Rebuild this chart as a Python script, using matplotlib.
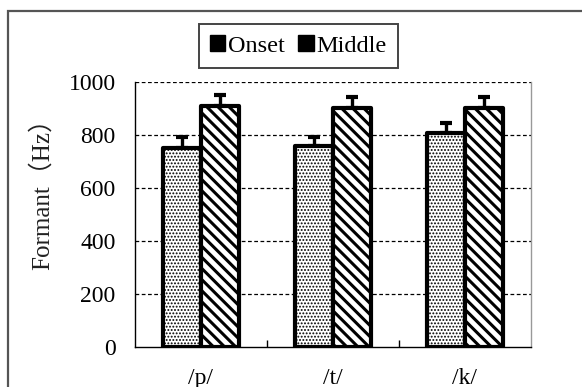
import numpy as np
import matplotlib
matplotlib.use('Agg')
import matplotlib.pyplot as plt
from matplotlib.patches import Rectangle, Patch

categories = ['/p/', '/t/', '/k/']
onset = [750, 756, 808]
onset_err = [40, 34, 36]
middle = [908, 901, 901]
middle_err = [41, 42, 42]
yticks = [0, 200, 400, 600, 800, 1000]

plt.rcParams['font.family'] = ['Liberation Serif', 'DejaVu Serif']

W, H = 582, 387
fig = plt.figure(figsize=(W / 100, H / 100), dpi=100)
ax = fig.add_axes([135 / W, 1 - 347 / H, 396 / W, 265.3 / H])

# chart area border (runs off right and bottom edge)
fig.patches.append(Rectangle((8 / W, -0.2), 1.2, 1 - 11 / H + 0.2,
                             transform=fig.transFigure, fill=False,
                             edgecolor='#555555', linewidth=1.6, clip_on=False))

x = np.arange(len(categories))
bw = 0.29

plt.rcParams['hatch.linewidth'] = 0.9
b1 = ax.bar(x - bw / 2, onset, bw, facecolor='white', edgecolor='black',
            linewidth=3, hatch='.....', joinstyle='round', zorder=3)
plt.rcParams['hatch.linewidth'] = 2.2
b2 = ax.bar(x + bw / 2, middle, bw, facecolor='white', edgecolor='black',
            linewidth=3, hatch='\\\\\\', joinstyle='round', zorder=3)

# only the upper half of the error bars shows
ax.errorbar(x - bw / 2, onset, yerr=[np.zeros(3), onset_err], fmt='none',
            ecolor='black', elinewidth=2.4, capsize=4.5, capthick=3, zorder=2)
ax.errorbar(x + bw / 2, middle, yerr=[np.zeros(3), middle_err], fmt='none',
            ecolor='black', elinewidth=2.4, capsize=4.5, capthick=3, zorder=2)

ax.set_xlim(-0.5, 2.5)
ax.set_ylim(0, 1000)
ax.set_yticks(yticks)
ax.set_xticks(x)
ax.set_xticklabels(categories)
ax.tick_params(axis='x', length=0, pad=15, labelsize=17)
ax.tick_params(axis='y', length=0, pad=14, labelsize=17)
ax.set_xticks([0.5, 1.5], minor=True)
ax.tick_params(axis='x', which='minor', direction='in', length=5, width=1)

for v in yticks[1:]:
    ax.axhline(v, color='black', linewidth=0.9, linestyle=(0, (3, 2)), zorder=1)

ax.spines['top'].set_visible(False)
ax.spines['right'].set_color('#999999')
ax.spines['right'].set_linewidth(1)
ax.spines['left'].set_linewidth(1)
ax.spines['bottom'].set_linewidth(1)

fig.text(42 / W, 1 - 188 / H, 'Formant（Hz）', rotation=90, ha='center',
         va='center', fontsize=18, color='#222222',
         family=['Liberation Serif', 'Noto Sans CJK JP'])

handles = [Patch(facecolor='black', edgecolor='black', joinstyle='round'),
           Patch(facecolor='black', edgecolor='black', joinstyle='round')]
leg = fig.legend(handles, ['Onset', 'Middle'], loc='center',
                 bbox_to_anchor=(298.5 / W, 1 - 46 / H), ncol=2,
                 fontsize=17.5, handlelength=0.62, handleheight=0.62,
                 handletextpad=0.12, columnspacing=0.55, borderpad=0.45,
                 fancybox=False, framealpha=1)
leg.get_frame().set_edgecolor('#444444')
leg.get_frame().set_linewidth(1.4)

fig.savefig('out.png', dpi=100)
